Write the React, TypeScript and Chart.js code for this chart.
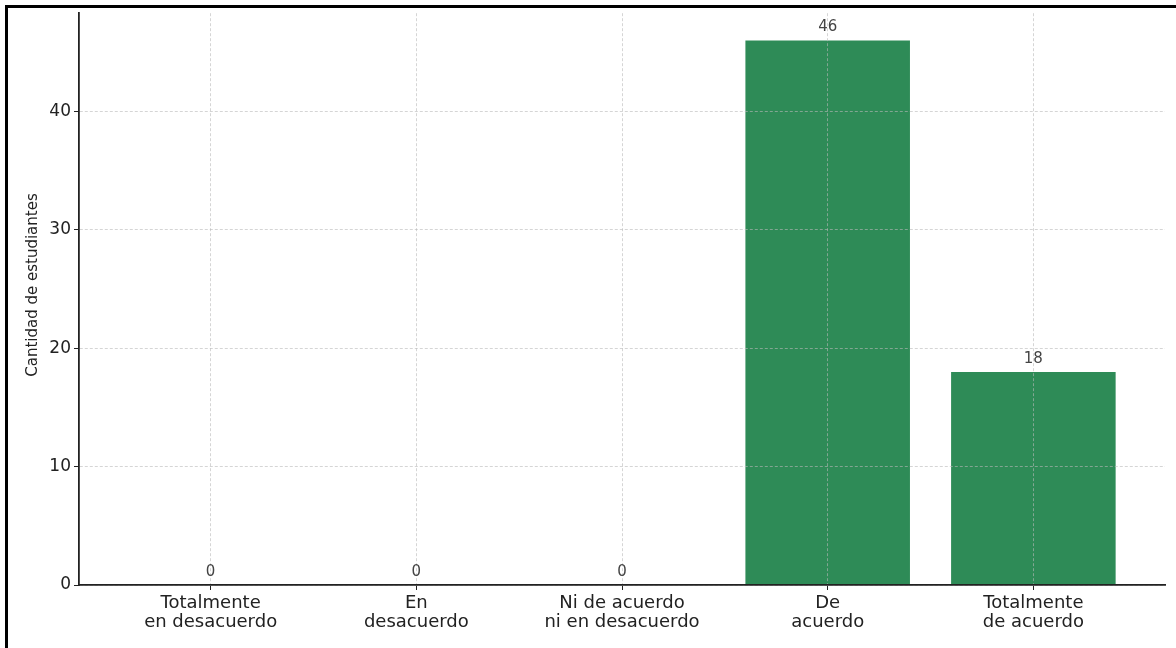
import React, { useEffect, useRef } from "react";
import { Chart, registerables } from "chart.js";

Chart.register(...registerables);

const categories: string[][] = [
  ["Totalmente", "en desacuerdo"],
  ["En", "desacuerdo"],
  ["Ni de acuerdo", "ni en desacuerdo"],
  ["De", "acuerdo"],
  ["Totalmente", "de acuerdo"],
];
const values: number[] = [0, 0, 0, 46, 18];
const yTicks: number[] = [0, 10, 20, 30, 40];
const yAxisTitle = "Cantidad de estudiantes";
const barColor = "#2e8b57";

const FONT = "'DejaVu Sans', sans-serif";

const valueLabels = {
  id: "valueLabels",
  afterDraw(chart: any) {
    const ctx = chart.ctx;
    const meta = chart.getDatasetMeta(0);
    ctx.save();
    ctx.font = `15px ${FONT}`;
    ctx.fillStyle = "#444444";
    ctx.textAlign = "center";
    ctx.textBaseline = "alphabetic";
    meta.data.forEach((bar: any, i: number) => {
      ctx.fillText(String(values[i]), bar.x, bar.y - 9);
    });
    ctx.restore();
  },
};

const yTitlePlugin = {
  id: "yTitlePlugin",
  afterDraw(chart: any) {
    const ctx = chart.ctx;
    ctx.save();
    ctx.font = `15px ${FONT}`;
    ctx.fillStyle = "#222222";
    ctx.textAlign = "center";
    ctx.textBaseline = "middle";
    ctx.translate(33, 285);
    ctx.rotate(-Math.PI / 2);
    ctx.fillText(yAxisTitle, 0, 0);
    ctx.restore();
  },
};

export default function App() {
  const canvasRef = useRef<HTMLCanvasElement | null>(null);

  useEffect(() => {
    if (!canvasRef.current) return;
    Chart.defaults.font.family = FONT;
    const gridColor = "rgba(185,185,185,0.6)";
    const chart = new Chart(canvasRef.current, {
      type: "bar",
      data: {
        datasets: [
          {
            data: values.map((v, i) => ({ x: i, y: v })),
            backgroundColor: barColor,
            borderWidth: 0,
            barPercentage: 0.8,
            categoryPercentage: 1,
          },
        ],
      },
      options: {
        responsive: false,
        animation: false,
        layout: { padding: { top: 13, right: 11, left: 0, bottom: 0 } },
        plugins: {
          legend: { display: false },
          tooltip: { enabled: false },
          title: { display: false },
        },
        scales: {
          x: {
            type: "linear",
            min: -0.64,
            max: 4.64,
            offset: false,
            afterBuildTicks: (s: any) => {
              s.ticks = categories.map((_, i) => ({ value: i }));
            },
            afterFit: (s: any) => {
              s.height = 63;
            },
            ticks: {
              callback: (v: any) => categories[Math.round(Number(v))],
              font: { size: 18, family: FONT, lineHeight: 1.1 },
              color: "#222222",
              padding: 3,
              maxRotation: 0,
              minRotation: 0,
              autoSkip: false,
            },
            grid: {
              offset: false,
              color: gridColor,
              lineWidth: 1,
              tickColor: "#222222",
              tickLength: 5,
              tickWidth: 1,
              z: 1,
            } as any,
            border: { color: "#222222", width: 1.8, dash: [3, 2], z: 2 } as any,
          },
          y: {
            type: "linear",
            min: 0,
            max: 48.3,
            afterBuildTicks: (s: any) => {
              s.ticks = yTicks.map((v) => ({ value: v }));
            },
            afterFit: (s: any) => {
              s.width = 79;
            },
            ticks: {
              font: { size: 17, family: FONT },
              color: "#222222",
              padding: 3,
            },
            grid: {
              color: gridColor,
              lineWidth: 1,
              tickColor: "#222222",
              tickLength: 5,
              tickWidth: 1,
              z: 1,
            } as any,
            border: { color: "#222222", width: 1.8, dash: [3, 2], z: 2 } as any,
          },
        },
      },
      plugins: [valueLabels, yTitlePlugin],
    });
    return () => chart.destroy();
  }, []);

  return (
    <div
      style={{
        position: "fixed",
        left: 0,
        top: 0,
        width: 1176,
        height: 648,
        background: "#ffffff",
      }}
    >
      <canvas ref={canvasRef} width={1176} height={648} style={{ display: "block" }} />
      <div style={{ position: "absolute", left: 5, top: 5, width: 1171, height: 3, background: "#000" }} />
      <div style={{ position: "absolute", left: 5, top: 5, width: 3, height: 643, background: "#000" }} />
    </div>
  );
}
